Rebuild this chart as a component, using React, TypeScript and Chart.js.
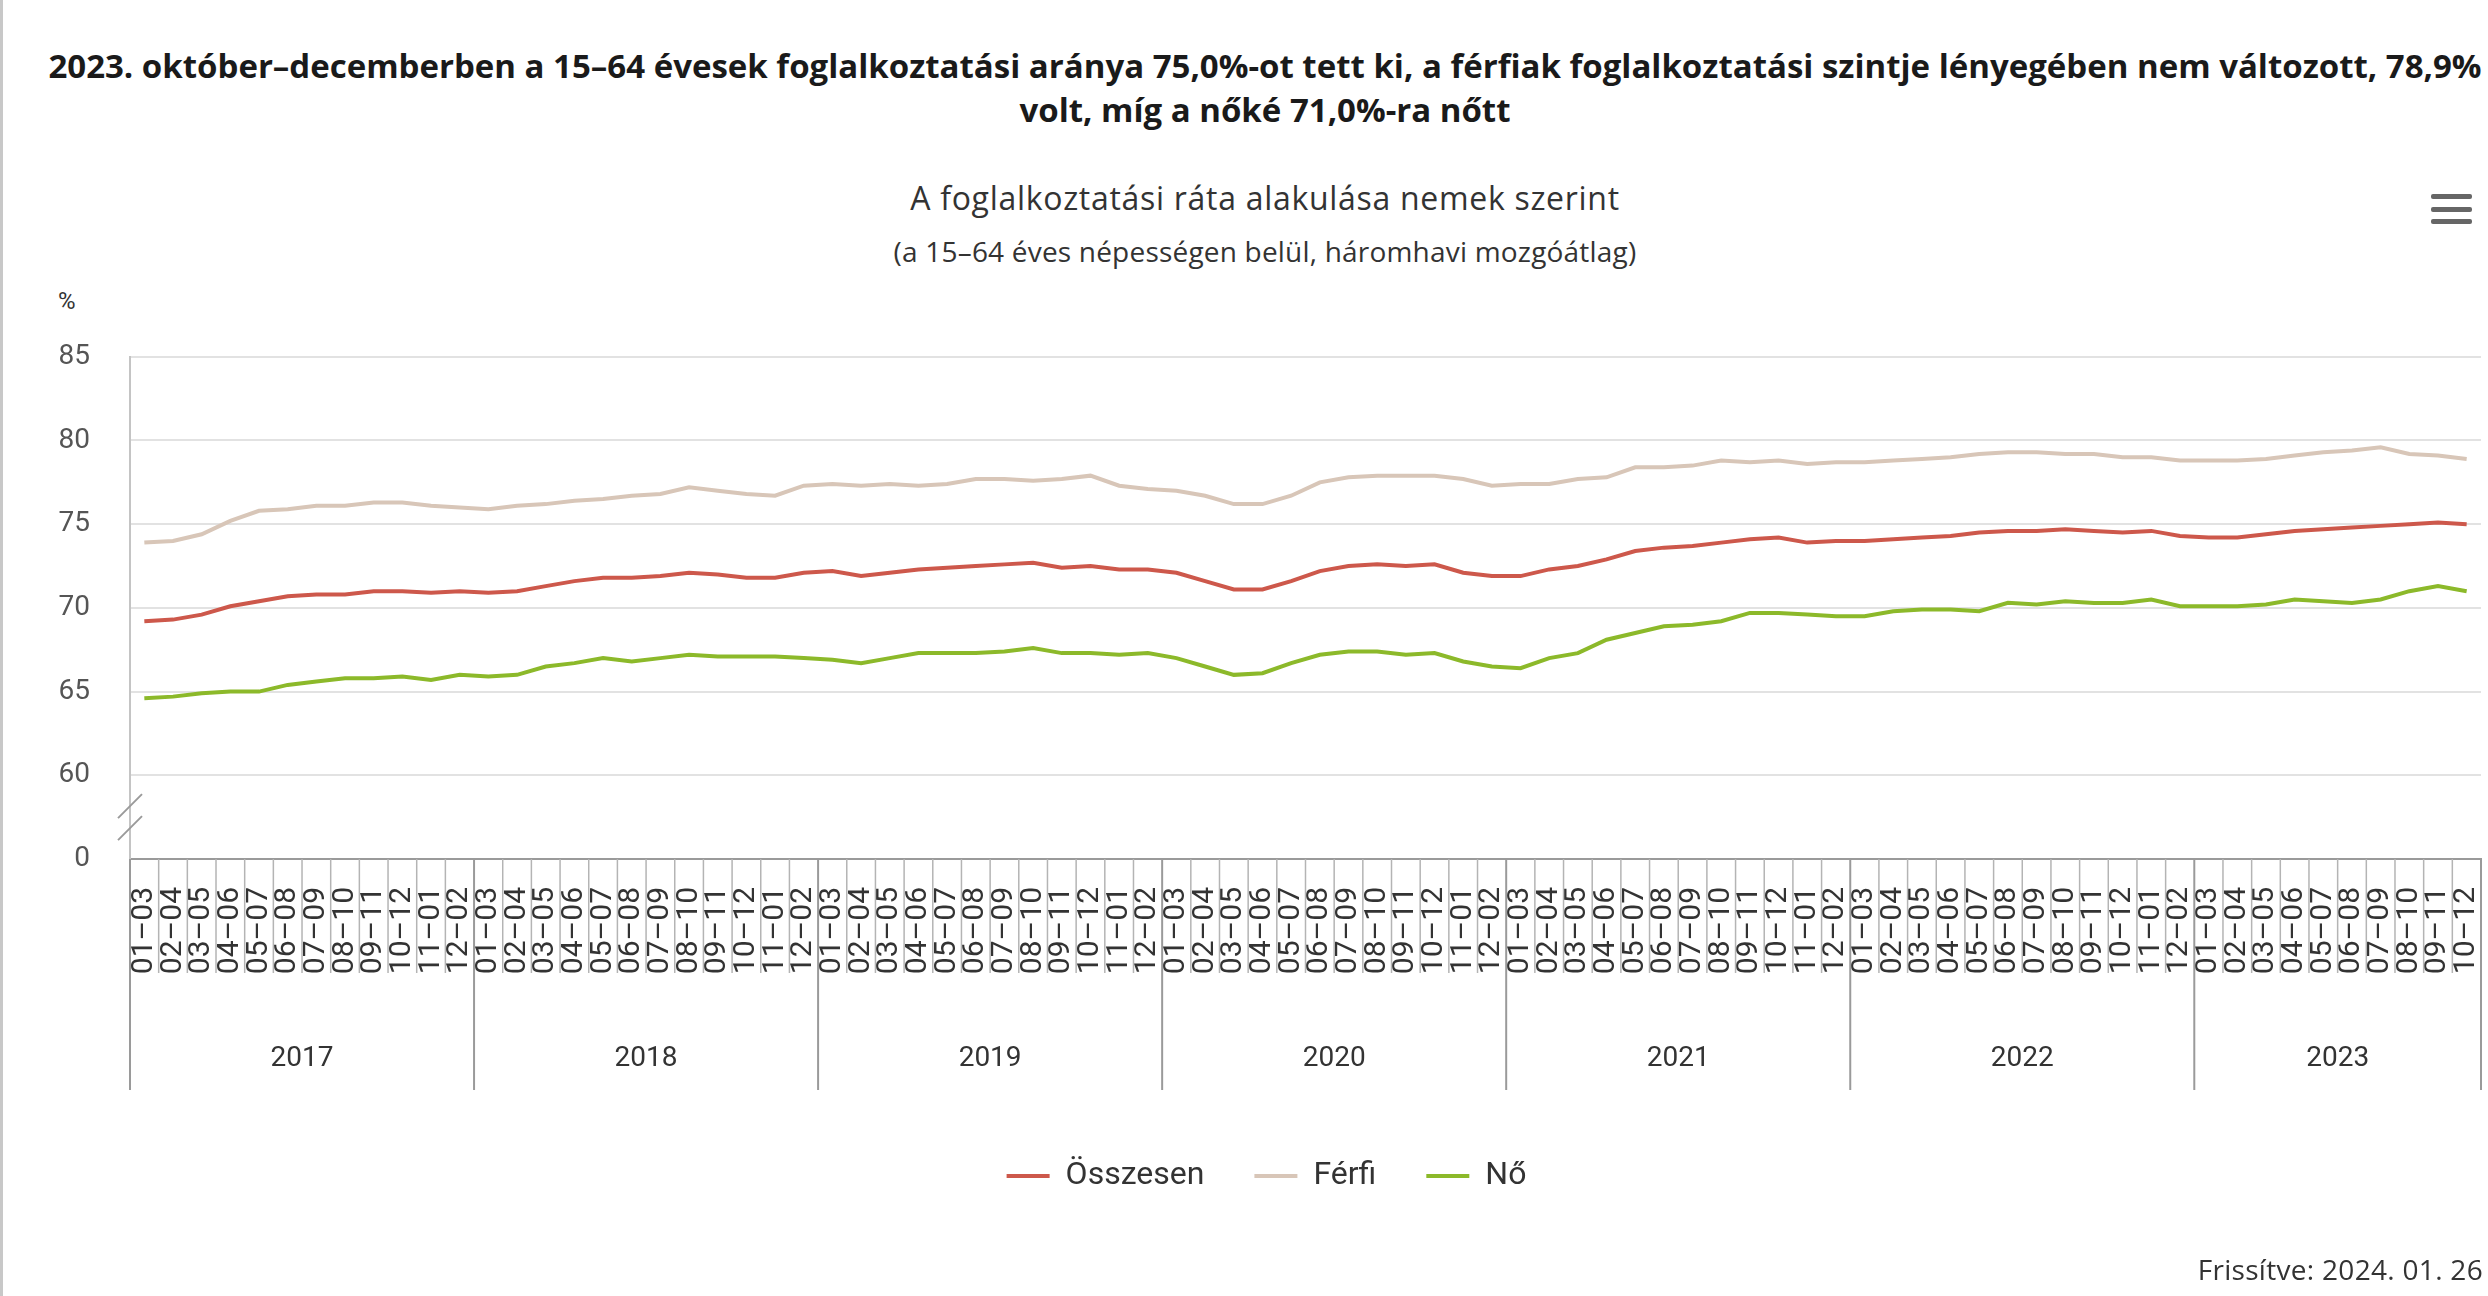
import React, { useEffect, useRef } from "react";
import { Chart, registerables } from "chart.js";

Chart.register(...registerables);

// ---- data ----
const periods = ["01–03", "02–04", "03–05", "04–06", "05–07", "06–08", "07–09", "08–10", "09–11", "10–12", "11–01", "12–02"];
const years = ["2017", "2018", "2019", "2020", "2021", "2022", "2023"];
const periodsInLastYear = 10;

const osszesen = [
  69.2, 69.3, 69.6, 70.1, 70.4, 70.7, 70.8, 70.8, 71.0, 71.0, 70.9, 71.0,
  70.9, 71.0, 71.3, 71.6, 71.8, 71.8, 71.9, 72.1, 72.0, 71.8, 71.8, 72.1,
  72.2, 71.9, 72.1, 72.3, 72.4, 72.5, 72.6, 72.7, 72.4, 72.5, 72.3, 72.3,
  72.1, 71.6, 71.1, 71.1, 71.6, 72.2, 72.5, 72.6, 72.5, 72.6, 72.1, 71.9,
  71.9, 72.3, 72.5, 72.9, 73.4, 73.6, 73.7, 73.9, 74.1, 74.2, 73.9, 74.0,
  74.0, 74.1, 74.2, 74.3, 74.5, 74.6, 74.6, 74.7, 74.6, 74.5, 74.6, 74.3,
  74.2, 74.2, 74.4, 74.6, 74.7, 74.8, 74.9, 75.0, 75.1, 75.0,
];
const ferfi = [
  73.9, 74.0, 74.4, 75.2, 75.8, 75.9, 76.1, 76.1, 76.3, 76.3, 76.1, 76.0,
  75.9, 76.1, 76.2, 76.4, 76.5, 76.7, 76.8, 77.2, 77.0, 76.8, 76.7, 77.3,
  77.4, 77.3, 77.4, 77.3, 77.4, 77.7, 77.7, 77.6, 77.7, 77.9, 77.3, 77.1,
  77.0, 76.7, 76.2, 76.2, 76.7, 77.5, 77.8, 77.9, 77.9, 77.9, 77.7, 77.3,
  77.4, 77.4, 77.7, 77.8, 78.4, 78.4, 78.5, 78.8, 78.7, 78.8, 78.6, 78.7,
  78.7, 78.8, 78.9, 79.0, 79.2, 79.3, 79.3, 79.2, 79.2, 79.0, 79.0, 78.8,
  78.8, 78.8, 78.9, 79.1, 79.3, 79.4, 79.6, 79.2, 79.1, 78.9,
];
const no = [
  64.6, 64.7, 64.9, 65.0, 65.0, 65.4, 65.6, 65.8, 65.8, 65.9, 65.7, 66.0,
  65.9, 66.0, 66.5, 66.7, 67.0, 66.8, 67.0, 67.2, 67.1, 67.1, 67.1, 67.0,
  66.9, 66.7, 67.0, 67.3, 67.3, 67.3, 67.4, 67.6, 67.3, 67.3, 67.2, 67.3,
  67.0, 66.5, 66.0, 66.1, 66.7, 67.2, 67.4, 67.4, 67.2, 67.3, 66.8, 66.5,
  66.4, 67.0, 67.3, 68.1, 68.5, 68.9, 69.0, 69.2, 69.7, 69.7, 69.6, 69.5,
  69.5, 69.8, 69.9, 69.9, 69.8, 70.3, 70.2, 70.4, 70.3, 70.3, 70.5, 70.1,
  70.1, 70.1, 70.2, 70.5, 70.4, 70.3, 70.5, 71.0, 71.3, 71.0,
];

const yTickValues = [55, 60, 65, 70, 75, 80, 85];
const yTickLabels = ["0", "60", "65", "70", "75", "80", "85"];

const seriesNames = ["Összesen", "Férfi", "Nő"];
const seriesColors = ["#cd584b", "#d8c6b8", "#8cb92a"];

// build categories from periods × years
const categories: string[] = [];
const yearStarts: number[] = [];
years.forEach((y, yi) => {
  yearStarts.push(categories.length);
  const count = yi === years.length - 1 ? periodsInLastYear : periods.length;
  for (let k = 0; k < count; k++) categories.push(periods[k]);
});

const FONT = "Roboto";
const HEAD_FONT = "'Open Sans'";

const decorations = {
  id: "decorations",
  afterDraw(chart: any) {
    const ctx = chart.ctx;
    const xs = chart.scales.x;
    const ys = chart.scales.y;
    const n = categories.length;
    const step = xs.getPixelForValue(1) - xs.getPixelForValue(0);
    const axisY = ys.getPixelForValue(55);
    ctx.save();
    // category tick lines and year separators
    for (let i = 0; i <= n; i++) {
      const px = (i < n ? xs.getPixelForValue(i) : xs.getPixelForValue(n - 1) + step) - step / 2;
      const isYear = yearStarts.includes(i) || i === n;
      ctx.strokeStyle = isYear ? "#9a9a9a" : "#b4b4b4";
      ctx.lineWidth = isYear ? 2 : 1.5;
      ctx.beginPath();
      ctx.moveTo(px, axisY);
      ctx.lineTo(px, axisY + (isYear ? 231 : 114));
      ctx.stroke();
    }
    // year labels
    ctx.fillStyle = "#333";
    ctx.font = `28px ${FONT}`;
    ctx.textAlign = "center";
    ctx.textBaseline = "middle";
    years.forEach((y, yi) => {
      const s = yearStarts[yi];
      const e = yi + 1 < years.length ? yearStarts[yi + 1] : n;
      const x0 = xs.getPixelForValue(s) - step / 2;
      const x1 = xs.getPixelForValue(e - 1) + step / 2;
      ctx.fillText(y, (x0 + x1) / 2, axisY + 200);
    });
    // axis break marks
    const bx = chart.chartArea.left;
    const by = ys.getPixelForValue(57.5);
    ctx.strokeStyle = "#9a9a9a";
    ctx.lineWidth = 2;
    [-11, 11].forEach((d) => {
      ctx.beginPath();
      ctx.moveTo(bx + 12, by + d - 12);
      ctx.lineTo(bx - 12, by + d + 12);
      ctx.stroke();
    });
    ctx.restore();
  },
};

function LineChart() {
  const ref = useRef<HTMLCanvasElement | null>(null);
  useEffect(() => {
    if (!ref.current) return;
    const chart = new Chart(ref.current, {
      type: "line",
      data: {
        labels: categories,
        datasets: [osszesen, ferfi, no].map((d, i) => ({
          label: seriesNames[i],
          data: d,
          borderColor: seriesColors[i],
          backgroundColor: seriesColors[i],
          borderWidth: 4,
          pointRadius: 0,
          tension: 0,
          fill: false,
        })),
      },
      options: {
        responsive: false,
        animation: false,
        layout: { padding: { left: 52, right: 7, top: 50, bottom: 94 } },
        plugins: {
          tooltip: { enabled: false },
          title: { display: false },
          legend: {
            position: "bottom",
            labels: {
              usePointStyle: true,
              pointStyle: "line",
              pointStyleWidth: 43,
              padding: 50,
              color: "#333",
              font: { size: 32, family: FONT },
            },
          },
        },
        scales: {
          x: {
            type: "category",
            offset: true,
            grid: { display: false, drawTicks: false },
            border: { display: true, color: "#9a9a9a", width: 2 },
            ticks: {
              autoSkip: false,
              minRotation: 90,
              maxRotation: 90,
              padding: 28,
              color: "#333",
              font: { size: 30, family: FONT },
            },
            afterFit: (scale: any) => {
              scale.height = 251;
              scale.paddingLeft = 0;
              scale.paddingRight = 0;
            },
          },
          y: {
            min: 55,
            max: 85,
            grid: { color: "#e2e2e2", lineWidth: 2, drawTicks: false },
            border: { display: true, color: "#c4c4c4", width: 2 },
            afterBuildTicks: (scale: any) => {
              scale.ticks = yTickValues.map((v) => ({ value: v }));
            },
            ticks: {
              padding: 40,
              color: "#555",
              font: { size: 28, family: FONT },
              callback: (v: any) => {
                const idx = yTickValues.indexOf(Number(v));
                return idx >= 0 ? yTickLabels[idx] : "";
              },
            },
            afterFit: (scale: any) => {
              scale.width = 78;
            },
          },
        },
      } as any,
      plugins: [decorations],
    });
    return () => chart.destroy();
  }, []);
  return <canvas ref={ref} width={2488} height={996} style={{ width: 2488, height: 996, display: "block" }} />;
}

export default function App() {
  return (
    <div
      style={{
        position: "absolute",
        left: 0,
        top: 0,
        width: 2488,
        height: 1296,
        background: "#fff",
        overflow: "hidden",
        fontFamily: FONT,
      }}
    >
      <div style={{ position: "absolute", left: 0, top: 0, width: 3, height: 1296, background: "#c8c8c8" }} />
      <div
        style={{
          position: "absolute",
          left: 40,
          top: 44,
          width: 2450,
          textAlign: "center",
          fontFamily: HEAD_FONT,
          fontWeight: 700,
          fontSize: 33,
          lineHeight: "44px",
          color: "#1a1a1a",
          whiteSpace: "nowrap",
        }}
      >
        <div>2023. október–decemberben a 15–64 évesek foglalkoztatási aránya 75,0%-ot tett ki, a férfiak foglalkoztatási szintje lényegében nem változott, 78,9%</div>
        <div>volt, míg a nőké 71,0%-ra nőtt</div>
      </div>
      <div
        style={{
          position: "absolute",
          left: 40,
          top: 177,
          width: 2450,
          textAlign: "center",
          fontFamily: HEAD_FONT,
          fontSize: 32,
          letterSpacing: 0.7,
          lineHeight: "42px",
          color: "#333",
        }}
      >
        A foglalkoztatási ráta alakulása nemek szerint
      </div>
      <div
        style={{
          position: "absolute",
          left: 40,
          top: 233,
          width: 2450,
          textAlign: "center",
          fontFamily: HEAD_FONT,
          fontSize: 28,
          letterSpacing: 0.2,
          lineHeight: "36px",
          color: "#333",
        }}
      >
        (a 15–64 éves népességen belül, háromhavi mozgóátlag)
      </div>
      <div style={{ position: "absolute", left: 2431, top: 194, width: 41 }}>
        {[0, 1, 2].map((i) => (
          <div key={i} style={{ height: 5, background: "#666", borderRadius: 2, marginBottom: 7.5 }} />
        ))}
      </div>
      <div style={{ position: "absolute", left: 58, top: 287, fontSize: 24, lineHeight: "28px", color: "#333" }}>%</div>
      <div style={{ position: "absolute", left: 0, top: 300 }}>
        <LineChart />
      </div>
      <div
        style={{
          position: "absolute",
          right: 5,
          top: 1251,
          fontFamily: HEAD_FONT,
          fontSize: 28,
          letterSpacing: 0.3,
          lineHeight: "36px",
          color: "#333",
        }}
      >
        Frissítve: 2024. 01. 26
      </div>
    </div>
  );
}
